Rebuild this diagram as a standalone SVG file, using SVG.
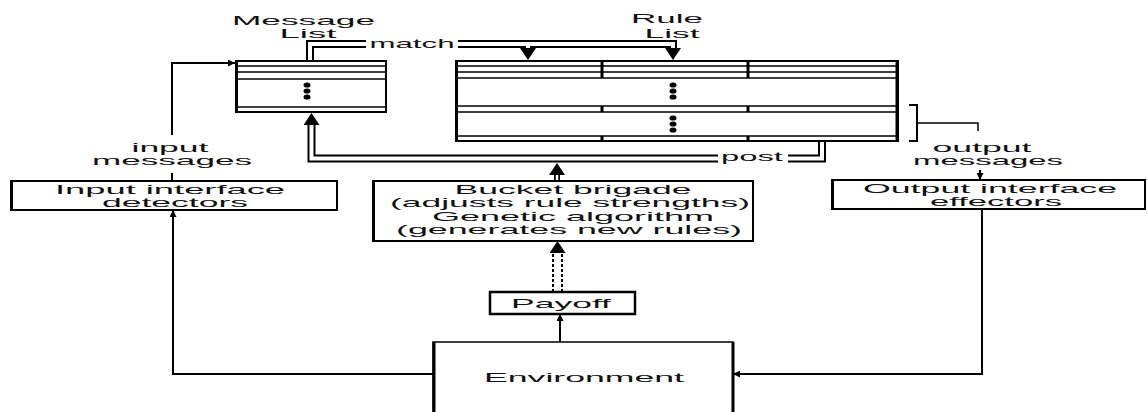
<svg xmlns="http://www.w3.org/2000/svg" width="1148" height="412" viewBox="0 0 1148 412">
<style>
.box{fill:#fff;stroke:#000;stroke-width:2}
.t{font-family:"Liberation Sans",Arial,sans-serif;font-size:13px;fill:#111;text-anchor:middle}
.ln{fill:none;stroke:#000;stroke-width:2}
.thin{fill:none;stroke:#000;stroke-width:1.5}
.po{fill:none;stroke:#000;stroke-width:8}
.pi{fill:none;stroke:#fff;stroke-width:4}
.ps{fill:none;stroke:#000;stroke-width:6}
.psi{fill:none;stroke:#fff;stroke-width:2.5}
.dash{fill:none;stroke:#000;stroke-width:2;stroke-dasharray:3 2}
.dot{fill:#000}
.div{stroke:#000;stroke-width:3}
</style>
<defs>
<marker id="big" viewBox="0 0 12 16" refX="0" refY="8" markerWidth="12" markerHeight="16" markerUnits="userSpaceOnUse" orient="auto"><path d="M0,0 L12,8 L0,16 z" fill="#000"/></marker>
<marker id="sm" viewBox="0 0 7 7" refX="7" refY="3.5" markerWidth="7" markerHeight="7" markerUnits="userSpaceOnUse" orient="auto"><path d="M0,0 L7,3.5 L0,7 z" fill="#000"/></marker>
</defs>
<rect width="1148" height="412" fill="#fff"/>

<g id="connectors">
  <!-- match pipe -->
  <path class="po" d="M310,61 V44 H673 V48" marker-end="url(#big)"/>
  <path class="po" d="M528,44 V48" marker-end="url(#big)"/>
  <path class="pi" d="M310,62 V44 H673 V48"/>
  <path class="pi" d="M528,44 V48"/>
  <!-- post pipe -->
  <path class="po" d="M822,141 V158.5 H311.5 V125" marker-end="url(#big)"/>
  <path class="pi" d="M822,140 V158.5 H311.5 V125"/>
  <!-- bucket to post -->
  <path class="ps" d="M557,182 V175" marker-end="url(#big)"/>
  <path class="psi" d="M557,180 V175"/>
  <!-- payoff to bucket (dashed double) -->
  <path class="dash" d="M553,292 V253"/>
  <path class="dash" d="M562,292 V253"/>
  <path d="M557.5,256 V253" stroke="none" fill="none" marker-end="url(#big)"/>
  <!-- environment to payoff -->
  <path class="ln" d="M560,342 V314" marker-end="url(#sm)"/>
  <!-- environment to input -->
  <path class="ln" d="M433,374 H173 V210" marker-end="url(#sm)"/>
  <!-- output to environment -->
  <path class="ln" d="M982,209 V374 H733" marker-end="url(#sm)"/>
  <!-- input to message list -->
  <path class="ln" d="M172,181 V173"/>
  <path class="ln" d="M172,135 V63 H235" marker-end="url(#sm)"/>
  <!-- rule list to output -->
  <path class="ln" d="M909,105 H917 V141 H909"/>
  <path class="thin" d="M917,123 H978 V131"/>
  <path class="ln" d="M980,170 V180" marker-end="url(#sm)"/>
  <!-- labels on connectors -->
  <rect x="366" y="38" width="92" height="12" fill="#fff"/>
  <text class="t" x="412" y="47.5" textLength="85" lengthAdjust="spacingAndGlyphs">match</text>
  <rect x="718" y="152" width="70" height="12" fill="#fff"/>
  <text class="t" x="752" y="161" textLength="62" lengthAdjust="spacingAndGlyphs">post</text>
  <text class="t" x="170" y="151.5" textLength="77" lengthAdjust="spacingAndGlyphs">input</text>
  <text class="t" x="172" y="165" textLength="160" lengthAdjust="spacingAndGlyphs">messages</text>
  <text class="t" x="982" y="151.5" textLength="99" lengthAdjust="spacingAndGlyphs">output</text>
  <text class="t" x="988" y="165" textLength="150" lengthAdjust="spacingAndGlyphs">messages</text>
</g>

<g id="message-list">
  <text class="t" x="303.5" y="25" textLength="143" lengthAdjust="spacingAndGlyphs">Message</text>
  <text class="t" x="308" y="37.5" textLength="57" lengthAdjust="spacingAndGlyphs">List</text>
  <rect class="box" x="236" y="61" width="150" height="51"/>
  <path class="thin" d="M236,66 H386 M236,72 H386 M236,79 H386 M236,107 H386"/>
  <path class="div" d="M236.5,61 V112"/>
  <ellipse class="dot" cx="307" cy="85" rx="3.5" ry="2.6"/>
  <ellipse class="dot" cx="307" cy="91" rx="3.5" ry="2.6"/>
  <ellipse class="dot" cx="307" cy="97" rx="3.5" ry="2.6"/>
</g>

<g id="rule-list">
  <text class="t" x="667" y="23" textLength="72" lengthAdjust="spacingAndGlyphs">Rule</text>
  <text class="t" x="672" y="37.5" textLength="55" lengthAdjust="spacingAndGlyphs">List</text>
  <rect class="box" x="456" y="61" width="442" height="80"/>
  <path class="thin" d="M456,66 H898 M456,72 H898 M456,78 H898 M456,106 H898 M456,112 H898 M456,136 H898"/>
  <path class="div" d="M456.5,61 V141 M897,61 V141 M602,61 V78 M602,106 V112 M602,136 V141 M748,61 V78 M748,106 V112 M748,136 V141"/>
  <ellipse class="dot" cx="673" cy="85" rx="3.5" ry="2.6"/>
  <ellipse class="dot" cx="673" cy="91" rx="3.5" ry="2.6"/>
  <ellipse class="dot" cx="673" cy="97" rx="3.5" ry="2.6"/>
  <ellipse class="dot" cx="673" cy="118" rx="3.5" ry="2.6"/>
  <ellipse class="dot" cx="673" cy="124" rx="3.5" ry="2.6"/>
  <ellipse class="dot" cx="673" cy="130" rx="3.5" ry="2.6"/>
</g>

<g id="input-interface">
  <rect class="box" x="11" y="181" width="326" height="29"/>
  <path class="div" d="M11.5,181 V210"/>
  <text class="t" x="170" y="193.5" textLength="230" lengthAdjust="spacingAndGlyphs">Input interface</text>
  <text class="t" x="175" y="206.5" textLength="146" lengthAdjust="spacingAndGlyphs">detectors</text>
</g>

<g id="output-interface">
  <rect class="box" x="832" y="180" width="313" height="29"/>
  <path class="div" d="M832.5,180 V209"/>
  <text class="t" x="990" y="192.5" textLength="254" lengthAdjust="spacingAndGlyphs">Output interface</text>
  <text class="t" x="996" y="205.5" textLength="132" lengthAdjust="spacingAndGlyphs">effectors</text>
</g>

<g id="bucket-brigade">
  <rect class="box" x="373" y="181" width="380" height="60"/>
  <path class="div" d="M373.5,181 V241"/>
  <text class="t" x="573" y="193.5" textLength="237" lengthAdjust="spacingAndGlyphs">Bucket brigade</text>
  <text class="t" x="570" y="207" textLength="360" lengthAdjust="spacingAndGlyphs">(adjusts rule strengths)</text>
  <text class="t" x="573" y="220.5" textLength="282" lengthAdjust="spacingAndGlyphs">Genetic algorithm</text>
  <text class="t" x="569" y="234" textLength="346" lengthAdjust="spacingAndGlyphs">(generates new rules)</text>
</g>

<g id="payoff">
  <rect class="box" x="490" y="292" width="145" height="22" style="stroke-width:2.5"/>
  <text class="t" x="561" y="308" textLength="100" lengthAdjust="spacingAndGlyphs">Payoff</text>
</g>

<g id="environment">
  <rect class="box" x="433" y="342" width="300" height="90" style="stroke-width:1.5"/>
  <path class="div" d="M733,342 V412 M434,342 V412"/>
  <text class="t" x="584" y="382" textLength="200" lengthAdjust="spacingAndGlyphs">Environment</text>
</g>
</svg>
